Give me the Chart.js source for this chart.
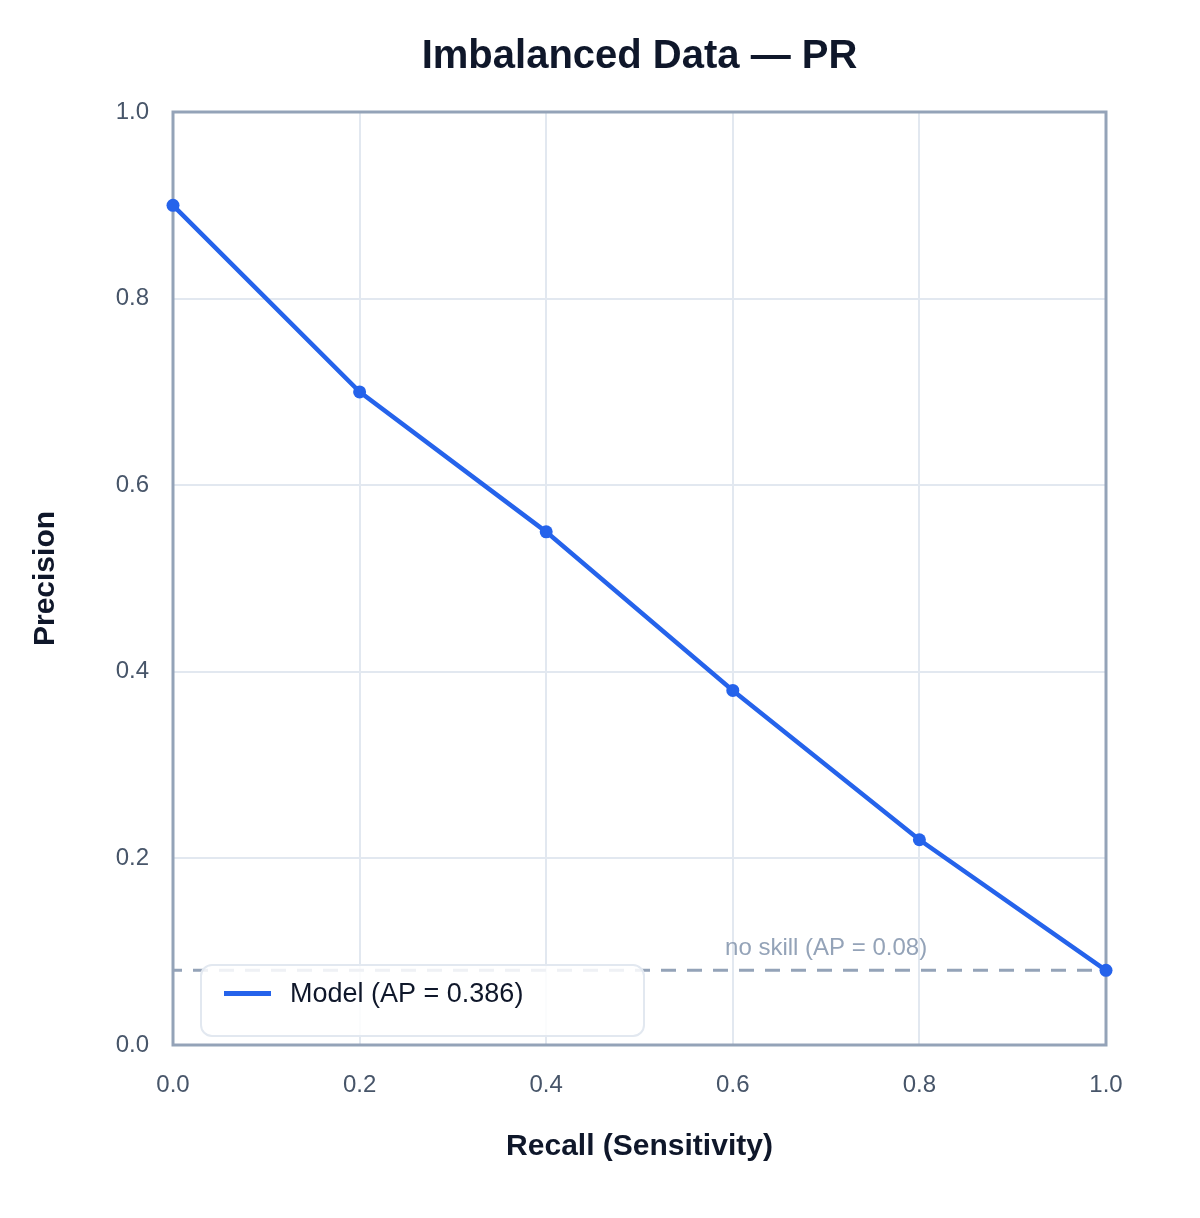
<!DOCTYPE html>
<html><head><meta charset="utf-8">
<script src="https://cdn.jsdelivr.net/npm/chart.js@4/dist/chart.umd.min.js"></script>
<style>html,body{margin:0;padding:0;background:#fff}#wrap{width:1200px;height:1218px;position:relative}</style>
</head><body><div id="wrap"><canvas id="c"></canvas></div>
<script>
// ---- data ----
const recall = [0.0, 0.2, 0.4, 0.6, 0.8, 1.0];
const precision = [0.90, 0.70, 0.55, 0.38, 0.22, 0.08];
const noSkillX = [0.0, 1.0];
const noSkillY = [0.08, 0.08];
const modelLabel = 'Model (AP = 0.386)';
const noSkillLabel = 'no skill (AP = 0.08)';
const noSkillLabelX = 0.70;
const chartTitle = 'Imbalanced Data \u2014 PR';
const xTitle = 'Recall (Sensitivity)';
const yTitle = 'Precision';

const FONT = "'Liberation Sans', Arial, Helvetica, sans-serif";
const BLUE = '#2563eb';
const SLATE = '#94a3b8';

const framePlugin = {
  id: 'frame',
  beforeDraw(chart) {
    const {ctx, chartArea: a} = chart;
    ctx.save();
    ctx.font = 'bold 40px ' + FONT;
    ctx.fillStyle = '#0f172a';
    ctx.textAlign = 'center';
    ctx.textBaseline = 'middle';
    ctx.fillText(chartTitle, (a.left + a.right) / 2, 57);
    ctx.restore();
  },
  beforeDatasetsDraw(chart) {
    const {ctx, chartArea: a} = chart;
    ctx.save();
    ctx.strokeStyle = SLATE;
    ctx.lineWidth = 3;
    ctx.strokeRect(a.left, a.top, a.right - a.left, a.bottom - a.top);
    ctx.restore();
  },
  afterDraw(chart) {
    const {ctx, chartArea: a, scales} = chart;
    // no-skill label
    ctx.save();
    ctx.font = '24px ' + FONT;
    ctx.fillStyle = SLATE;
    ctx.textAlign = 'center';
    ctx.textBaseline = 'middle';
    ctx.fillText(noSkillLabel, scales.x.getPixelForValue(noSkillLabelX), scales.y.getPixelForValue(noSkillY[0]) - 22);
    // legend
    const bx = a.left + 28, by = a.bottom - 80, bw = 443, bh = 71, r = 11;
    ctx.beginPath();
    ctx.roundRect(bx, by, bw, bh, r);
    ctx.fillStyle = 'rgba(255,255,255,0.85)';
    ctx.fill();
    ctx.lineWidth = 2;
    ctx.strokeStyle = '#e2e8f0';
    ctx.stroke();
    const cy = by + 28.5;
    ctx.beginPath();
    ctx.moveTo(bx + 23, cy);
    ctx.lineTo(bx + 70, cy);
    ctx.lineWidth = 5;
    ctx.strokeStyle = BLUE;
    ctx.stroke();
    ctx.font = '27px ' + FONT;
    ctx.fillStyle = '#0f172a';
    ctx.textAlign = 'left';
    ctx.textBaseline = 'middle';
    ctx.fillText(chart.data.datasets[0].label, bx + 89, cy + 1);
    ctx.restore();
  }
};

new Chart(document.getElementById('c'), {
  type: 'line',
  data: {
    datasets: [
      {
        label: modelLabel,
        data: recall.map((x, i) => ({x, y: precision[i]})),
        borderColor: BLUE,
        backgroundColor: BLUE,
        borderWidth: 4.5,
        pointRadius: 6.5,
        pointBackgroundColor: BLUE,
        pointBorderWidth: 0,
        tension: 0,
        clip: false,
        order: 0
      },
      {
        label: noSkillLabel,
        data: noSkillX.map((x, i) => ({x, y: noSkillY[i]})),
        borderColor: SLATE,
        borderWidth: 3,
        borderDash: [15, 11],
        borderDashOffset: 6,
        pointRadius: 0,
        order: 1
      }
    ]
  },
  options: {
    responsive: true,
    maintainAspectRatio: false,
    animation: false,
    layout: {padding: {left: 0, right: 94, top: 112, bottom: 0}},
    plugins: {
      legend: {display: false},
      tooltip: {enabled: false},
      title: {display: false}
    },
    scales: {
      x: {
        type: 'linear', min: 0, max: 1,
        afterFit(s) { s.height = 173; },
        ticks: {stepSize: 0.2, padding: 26, color: '#475569', font: {family: FONT, size: 24}, callback: v => v.toFixed(1)},
        grid: {color: '#e2e8f0', lineWidth: 2, drawTicks: false},
        border: {display: false},
        title: {display: true, text: xTitle, color: '#0f172a', font: {family: FONT, size: 30, weight: 'bold', lineHeight: 1.2}, padding: {top: 0, bottom: 53}}
      },
      y: {
        type: 'linear', min: 0, max: 1,
        afterFit(s) { s.width = 173; },
        ticks: {stepSize: 0.2, padding: 24, color: '#475569', font: {family: FONT, size: 24}, callback: v => v.toFixed(1)},
        grid: {color: '#e2e8f0', lineWidth: 2, drawTicks: false},
        border: {display: false},
        title: {display: true, text: yTitle, color: '#0f172a', font: {family: FONT, size: 30, weight: 'bold', lineHeight: 1.2}, padding: {top: 28, bottom: 0}}
      }
    }
  },
  plugins: [framePlugin]
});
</script>
</body></html>
